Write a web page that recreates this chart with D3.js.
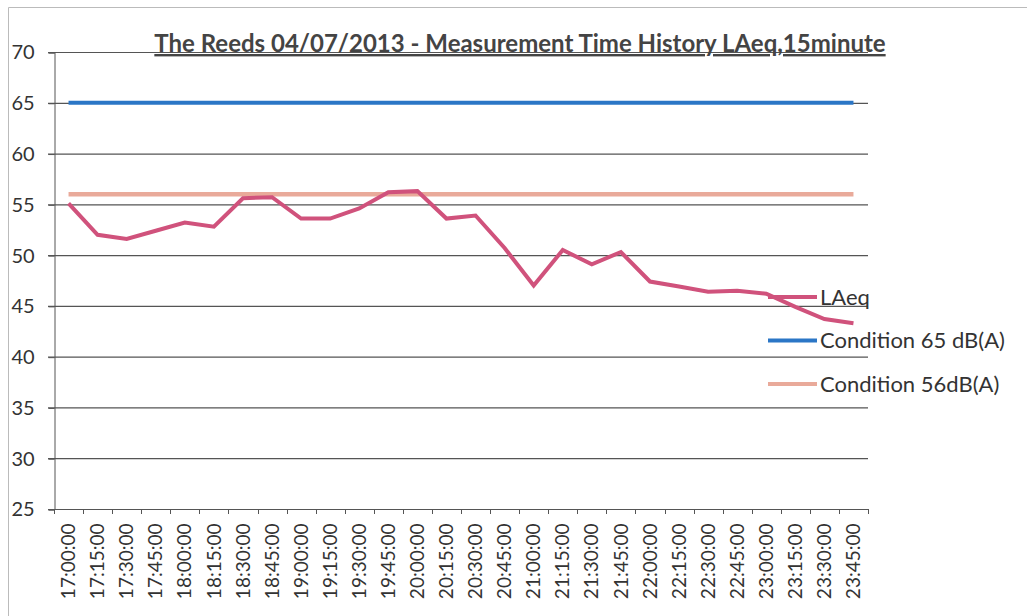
<!DOCTYPE html>
<html><head><meta charset="utf-8">
<script src="https://cdn.jsdelivr.net/npm/d3@7"></script>
<style>body{margin:0;background:#fff;} svg{display:block;}</style>
</head><body>
<svg id="c" width="1027" height="616"></svg>
<script>
const times = ["17:00:00","17:15:00","17:30:00","17:45:00","18:00:00","18:15:00","18:30:00","18:45:00","19:00:00","19:15:00","19:30:00","19:45:00","20:00:00","20:15:00","20:30:00","20:45:00","21:00:00","21:15:00","21:30:00","21:45:00","22:00:00","22:15:00","22:30:00","22:45:00","23:00:00","23:15:00","23:30:00","23:45:00"];
const laeq = [55.1,52.0,51.6,52.4,53.2,52.8,55.6,55.7,53.6,53.6,54.6,56.2,56.3,53.6,53.9,50.7,47.0,50.5,49.1,50.3,47.4,46.9,46.4,46.5,46.2,44.9,43.7,43.3];
const cond65 = times.map(() => 65);
const cond56 = times.map(() => 56);
const yTicks = [25,30,35,40,45,50,55,60,65,70];
const seriesNames = ["LAeq","Condition 65 dB(A)","Condition 56dB(A)"];
const seriesColors = ["#d0527c","#2b76c6","#e9aa9a"];
const title = "The Reeds 04/07/2013 - Measurement Time History LAeq,15minute";

const svg = d3.select("#c");
const font = "Lato, 'Open Sans', sans-serif";
const L = 54, R = 868, T = 52, B = 509;

// outer border
svg.append("path").attr("d","M8.5,616 V7.5 H1027").attr("fill","none").attr("stroke","#bbb").attr("stroke-width",1);

const x = d3.scaleBand().domain(times).range([L,R]);
const y = d3.scaleLinear().domain([25,70]).range([B,T]);

// gridlines
svg.append("g").selectAll("line").data(yTicks.filter(d=>d>25)).join("line")
  .attr("x1",L-6).attr("x2",R).attr("y1",d=>y(d)+0.5).attr("y2",d=>y(d)+0.5)
  .attr("stroke","#555").attr("stroke-width",1.2);

// y axis
const ya = svg.append("g").attr("transform",`translate(${L+0.5},0.5)`)
  .call(d3.axisLeft(y).tickValues(yTicks).tickSize(6).tickFormat(d3.format("d")));
ya.select(".domain").attr("stroke","#555");
ya.selectAll(".tick line").attr("stroke","#555");
ya.selectAll(".tick text").attr("x",-(L-11)).attr("text-anchor","start")
  .attr("font-family",font).attr("font-size",20).attr("fill","#333");

// x axis
const xa = svg.append("g").attr("transform",`translate(0,${B+0.5})`)
  .call(d3.axisBottom(x).tickSize(0));
xa.select(".domain").attr("stroke","#555").attr("d",`M${L-6},0H${R}`);
xa.selectAll(".tick text").attr("transform","rotate(-90)").attr("text-anchor","end")
  .attr("x",-14).attr("y",0).attr("dy","0.35em")
  .attr("font-family",font).attr("font-size",19).attr("fill","#333");
// band-boundary ticks
const bounds = times.map(t=>x(t)).concat([R]);
svg.append("g").selectAll("line").data(bounds).join("line")
  .attr("x1",d=>Math.round(d)+0.5).attr("x2",d=>Math.round(d)+0.5)
  .attr("y1",B).attr("y2",B+5).attr("stroke","#555");

const cx = t => x(t) + x.bandwidth()/2;
const line = d3.line().x((d,i)=>cx(times[i])).y(d=>y(d));

svg.append("path").datum(cond65).attr("d",line).attr("fill","none")
  .attr("stroke",seriesColors[1]).attr("stroke-width",4);
svg.append("path").datum(cond56).attr("d",line).attr("fill","none")
  .attr("stroke",seriesColors[2]).attr("stroke-width",4.5);
svg.append("path").datum(laeq).attr("d",line).attr("fill","none")
  .attr("stroke",seriesColors[0]).attr("stroke-width",4).attr("stroke-linejoin","miter");

// legend
const lg = svg.append("g");
seriesNames.forEach((n,i)=>{
  const ly = 297 + i*43.5;
  lg.append("line").attr("x1",768).attr("x2",817).attr("y1",ly).attr("y2",ly)
    .attr("stroke",seriesColors[i]).attr("stroke-width",4);
  lg.append("text").attr("x",820).attr("y",ly).attr("dy","0.35em")
    .attr("font-family",font).attr("font-size",22).attr("fill","#333").text(n);
});

// title
svg.append("text").attr("x",520).attr("y",52).attr("text-anchor","middle")
  .attr("font-family",font).attr("font-size",24).attr("font-weight","bold")
  .attr("fill","#444").attr("text-decoration","underline").text(title);
</script>
</body></html>
